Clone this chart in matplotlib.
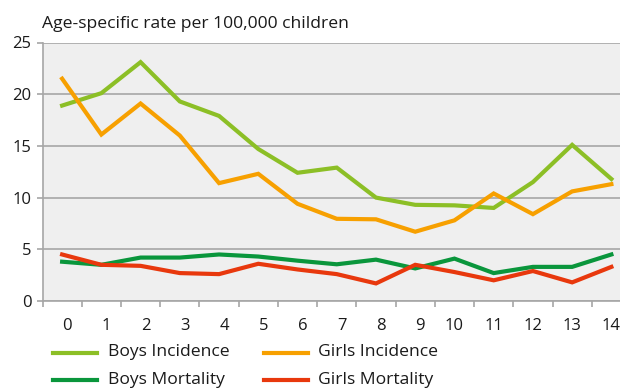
import matplotlib
matplotlib.use("Agg")
import matplotlib.pyplot as plt
from matplotlib.lines import Line2D
from matplotlib.ticker import MultipleLocator, FixedLocator
from matplotlib.transforms import ScaledTranslation

plt.rcParams['font.family'] = ['Open Sans', 'DejaVu Sans']

ages = list(range(15))
boys_incidence = [18.9, 20.1, 23.1, 19.3, 17.9, 14.7, 12.4, 12.9, 10.0, 9.3, 9.25, 9.0, 11.5, 15.1, 11.8]
girls_incidence = [21.5, 16.1, 19.1, 16.0, 11.4, 12.3, 9.4, 7.95, 7.9, 6.7, 7.8, 10.4, 8.4, 10.6, 11.3]
boys_mortality = [3.8, 3.5, 4.2, 4.2, 4.5, 4.3, 3.9, 3.55, 4.0, 3.15, 4.1, 2.7, 3.3, 3.3, 4.5]
girls_mortality = [4.5, 3.5, 3.4, 2.7, 2.6, 3.6, 3.05, 2.6, 1.7, 3.5, 2.8, 2.0, 2.9, 1.8, 3.3]

series = [
    ("Boys Incidence", boys_incidence, "#8cbf26"),
    ("Boys Mortality", boys_mortality, "#0a963c"),
    ("Girls Incidence", girls_incidence, "#f7a000"),
    ("Girls Mortality", girls_mortality, "#e8380d"),
]

W, H = 620, 390
fig = plt.figure(figsize=(W / 100, H / 100), dpi=100)
left, right, top, bottom = 42.5, 631, 42.5, 301
ax = fig.add_axes([left / W, 1 - bottom / H, (right - left) / W, (bottom - top) / H])
ax.set_facecolor("#efefef")

for name, vals, col in series:
    ax.plot(ages, vals, color=col, lw=3, solid_joinstyle="miter", label=name)

ax.set_xlim(-0.5, 14.5)
ax.set_ylim(0, 25)
ax.yaxis.set_major_locator(MultipleLocator(5))
ax.set_xticks(ages)
ax.xaxis.set_minor_locator(FixedLocator([a - 0.5 for a in ages] + [14.5]))
ax.grid(axis="y", color="#a6a6a6", lw=1.2)
ax.set_axisbelow(True)

for s in ("top", "right"):
    ax.spines[s].set_visible(False)
for s in ("left", "bottom"):
    ax.spines[s].set_color("#a6a6a6")
    ax.spines[s].set_linewidth(1.2)

ax.tick_params(axis="x", which="major", length=0, pad=12, labelsize=12, colors="#1a1a1a")
ax.tick_params(axis="x", which="minor", length=4, width=1.2, color="#a6a6a6")
ax.tick_params(axis="y", length=4, width=1.2, color="#a6a6a6", labelsize=12, labelcolor="#1a1a1a", pad=4)

# single-digit category labels sit a little right of the category centre
shift = ScaledTranslation(5 / 100, 0, fig.dpi_scale_trans)
for age, lbl in zip(ages, ax.get_xticklabels()):
    if age < 10:
        lbl.set_transform(lbl.get_transform() + shift)

fig.text(42 / W, 1 - 23.5 / H, "Age-specific rate per 100,000 children",
         fontsize=12.6, color="#1a1a1a", va="center", ha="left")

# two-row legend below the axis
legend_slots = {
    "Boys Incidence": (53, 352.5),
    "Girls Incidence": (263.5, 352.5),
    "Boys Mortality": (53, 380),
    "Girls Mortality": (263.5, 380),
}
for name, vals, col in series:
    x0, y0 = legend_slots[name]
    fig.add_artist(Line2D([x0 / W, (x0 + 44) / W], [1 - y0 / H, 1 - y0 / H],
                          color=col, lw=3, transform=fig.transFigure))
    fig.text((x0 + 55) / W, 1 - y0 / H, name, fontsize=12.6, color="#1a1a1a",
             va="center", ha="left")

fig.savefig("out.png", dpi=100)
